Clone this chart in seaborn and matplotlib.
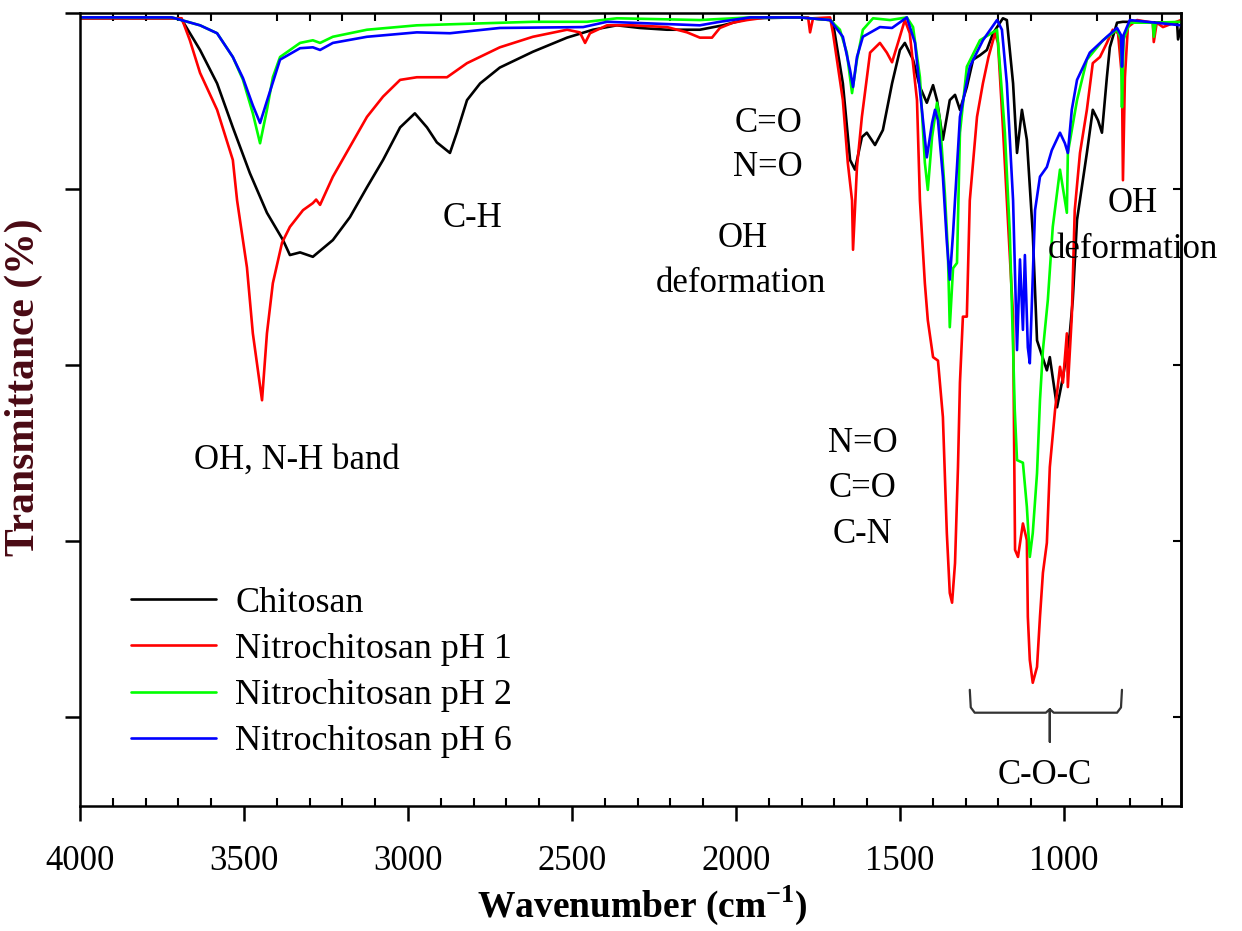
import matplotlib
matplotlib.use("Agg")
from matplotlib import pyplot as plt
from matplotlib.ticker import MultipleLocator
import pandas as pd
import seaborn as sns

samples = ["Chitosan", "Nitrochitosan pH 1", "Nitrochitosan pH 2", "Nitrochitosan pH 6"]
colors = ["#000000", "#ff0000", "#00ff00", "#0000ff"]

# (wavenumber cm-1, transmittance)
chitosan = [
    (4000, 99.4), (3700, 99.4), (3689, 99.2), (3634, 95.8), (3582, 92.0), (3534, 87.0),
    (3482, 81.8), (3430, 77.3), (3381, 74.2), (3360, 72.5), (3329, 72.8), (3290, 72.3),
    (3229, 74.2), (3177, 76.8), (3125, 80.2), (3076, 83.3), (3024, 87.0), (2979, 88.6),
    (2942, 87.0), (2912, 85.3), (2872, 84.1), (2851, 86.4), (2820, 90.1), (2780, 92.0),
    (2720, 93.8), (2619, 95.6), (2515, 97.2), (2436, 98.1), (2363, 98.6), (2293, 98.3),
    (2210, 98.1), (2110, 98.1), (2040, 98.6), (1957, 99.4), (1805, 99.5), (1713, 99.2),
    (1704, 98.9), (1674, 92.0), (1652, 83.3), (1637, 82.2), (1616, 85.9), (1601, 86.4),
    (1576, 85.0), (1552, 86.7), (1524, 92.0), (1500, 95.8), (1485, 96.6), (1460, 94.7),
    (1439, 91.6), (1418, 89.8), (1399, 91.8), (1387, 90.1), (1369, 85.6), (1348, 90.1),
    (1332, 90.7), (1317, 89.0), (1296, 91.6), (1277, 94.7), (1256, 95.2), (1235, 95.8),
    (1216, 97.7), (1186, 99.4), (1174, 99.2), (1155, 92.0), (1143, 84.1), (1128, 89.0),
    (1113, 85.6), (1095, 75.0), (1082, 62.8), (1052, 59.4), (1043, 60.9), (1021, 55.2),
    (1003, 58.6), (982, 63.6), (973, 67.4), (960, 76.5), (930, 84.1), (912, 89.0),
    (896, 87.8), (884, 86.4), (869, 92.7), (860, 96.1), (838, 98.9), (820, 99.0),
    (655, 98.9), (652, 97.0), (643, 98.4),
]

nitro_ph1 = [
    (4000, 99.4), (3690, 99.4), (3665, 96.9), (3634, 93.2), (3582, 89.0), (3534, 83.3),
    (3521, 78.7), (3491, 71.1), (3473, 63.6), (3445, 56.0), (3430, 63.6), (3412, 69.3),
    (3384, 73.9), (3360, 75.7), (3320, 77.6), (3290, 78.4), (3280, 78.8), (3268, 78.2),
    (3229, 81.4), (3177, 84.8), (3125, 88.2), (3076, 90.5), (3024, 92.4), (2973, 92.7),
    (2881, 92.7), (2820, 94.3), (2720, 96.1), (2619, 97.3), (2515, 98.1), (2476, 97.8),
    (2460, 96.6), (2445, 97.7), (2393, 98.6), (2314, 98.6), (2210, 98.4), (2149, 97.8),
    (2110, 97.2), (2073, 97.2), (2049, 98.3), (2009, 98.9), (1966, 99.2), (1906, 99.5),
    (1780, 99.5), (1774, 97.8), (1765, 99.4), (1713, 99.5), (1704, 97.7), (1674, 90.1),
    (1659, 83.0), (1646, 78.7), (1643, 73.1), (1631, 82.5), (1616, 88.2), (1591, 95.5),
    (1561, 96.6), (1540, 95.5), (1524, 94.4), (1506, 96.6), (1485, 99.2), (1470, 97.7),
    (1448, 90.1), (1439, 78.7), (1424, 69.3), (1415, 65.1), (1399, 60.9), (1384, 60.5),
    (1369, 54.1), (1357, 40.9), (1348, 34.1), (1341, 33.0), (1332, 37.5), (1323, 48.4),
    (1317, 58.0), (1308, 65.5), (1296, 65.5), (1287, 78.7), (1265, 88.2), (1247, 92.0),
    (1230, 95.0), (1210, 97.7), (1201, 96.6), (1186, 87.0), (1155, 65.5), (1152, 52.0),
    (1149, 39.0), (1140, 38.2), (1125, 42.0), (1113, 40.1), (1110, 31.4), (1104, 26.5),
    (1095, 23.9), (1082, 25.7), (1073, 31.4), (1064, 36.4), (1052, 39.8), (1043, 48.4),
    (1027, 54.9), (1012, 59.8), (1003, 58.0), (991, 63.6), (988, 57.5), (976, 65.5),
    (967, 77.6), (951, 84.1), (930, 89.0), (912, 94.3), (890, 95.0), (869, 96.6),
    (851, 98.1), (835, 97.7), (823, 92.7), (820, 81.0), (814, 92.7), (805, 98.4),
    (777, 99.2), (729, 98.9), (726, 96.7), (717, 98.9), (698, 98.4), (643, 99.2),
]

nitro_ph2 = [
    (4000, 99.5), (3720, 99.5), (3634, 98.6), (3582, 97.7), (3534, 95.0), (3503, 92.4),
    (3473, 88.6), (3451, 85.2), (3430, 89.0), (3412, 92.7), (3390, 95.0), (3329, 96.6),
    (3290, 96.9), (3268, 96.6), (3229, 97.3), (3125, 98.1), (2973, 98.6), (2619, 99.0),
    (2454, 99.0), (2363, 99.4), (2110, 99.2), (1957, 99.5), (1805, 99.5), (1713, 99.2),
    (1683, 98.1), (1662, 95.5), (1646, 90.9), (1631, 94.7), (1613, 98.1), (1582, 99.4),
    (1530, 99.2), (1479, 99.5), (1460, 98.4), (1439, 92.7), (1424, 83.0), (1415, 79.9),
    (1402, 85.9), (1387, 89.8), (1378, 87.8), (1363, 79.5), (1354, 73.1), (1348, 64.3),
    (1338, 71.0), (1326, 71.6), (1317, 86.4), (1296, 93.9), (1256, 96.9), (1204, 98.1),
    (1195, 93.9), (1180, 86.4), (1165, 75.0), (1155, 62.0), (1150, 55.0), (1143, 49.2),
    (1125, 48.9), (1113, 43.9), (1104, 38.2), (1095, 40.9), (1082, 47.7), (1073, 56.0),
    (1064, 61.7), (1049, 67.4), (1034, 75.7), (1012, 82.2), (991, 77.3), (988, 84.1),
    (960, 90.1), (930, 94.7), (881, 96.9), (838, 98.1), (826, 97.0), (823, 89.3),
    (818, 97.0), (799, 98.9), (729, 98.9), (726, 97.3), (720, 98.9), (643, 99.0),
]

nitro_ph6 = [
    (4000, 99.5), (3720, 99.5), (3634, 98.6), (3582, 97.7), (3534, 95.0), (3503, 92.6),
    (3473, 89.5), (3451, 87.5), (3430, 90.0), (3390, 94.7), (3329, 96.0), (3290, 96.1),
    (3268, 95.8), (3229, 96.6), (3125, 97.3), (2973, 97.8), (2872, 97.7), (2720, 98.3),
    (2466, 98.4), (2393, 99.0), (2110, 98.6), (2049, 99.0), (1957, 99.5), (1805, 99.5),
    (1713, 99.2), (1674, 97.3), (1652, 93.5), (1643, 91.6), (1631, 95.0), (1613, 97.3),
    (1561, 98.4), (1524, 98.3), (1479, 99.5), (1454, 96.6), (1433, 89.0), (1418, 83.6),
    (1402, 87.5), (1393, 89.0), (1384, 87.8), (1369, 81.4), (1357, 74.0), (1348, 69.7),
    (1338, 75.0), (1317, 88.2), (1287, 93.9), (1247, 96.9), (1204, 99.2), (1189, 98.1),
    (1174, 92.0), (1155, 78.7), (1143, 61.7), (1134, 72.0), (1125, 64.0), (1119, 72.5),
    (1110, 62.0), (1104, 60.2), (1095, 70.0), (1088, 77.6), (1073, 81.4), (1052, 82.5),
    (1037, 84.4), (1012, 86.4), (997, 85.2), (988, 84.1), (976, 89.0), (960, 92.4),
    (921, 95.5), (869, 97.3), (838, 98.3), (826, 97.5), (823, 93.9), (818, 97.5),
    (799, 99.2), (643, 98.6),
]

frames = []
for name, pts in zip(samples, [chitosan, nitro_ph1, nitro_ph2, nitro_ph6]):
    d = pd.DataFrame(pts, columns=["wavenumber", "transmittance"])
    d["sample"] = name
    frames.append(d)
df = pd.concat(frames, ignore_index=True)

sns.set_style("ticks")
plt.rcParams["font.family"] = ["Liberation Serif", "DejaVu Serif"]
plt.rcParams["mathtext.fontset"] = "custom"
plt.rcParams["mathtext.rm"] = "Liberation Serif"
plt.rcParams["mathtext.bf"] = "Liberation Serif:bold"
plt.rcParams["axes.edgecolor"] = "black"
plt.rcParams["text.color"] = "black"
plt.rcParams["axes.labelcolor"] = "black"
plt.rcParams["xtick.color"] = "black"
plt.rcParams["ytick.color"] = "black"

fig = plt.figure(figsize=(12.42, 9.31), dpi=100)
ax = fig.add_axes([80 / 1242, 1 - 806 / 931, 1101 / 1242, 793 / 931])

sns.lineplot(data=df, x="wavenumber", y="transmittance", hue="sample",
             hue_order=samples, palette=colors, estimator=None, sort=False,
             linewidth=1.9, ax=ax)

ax.set_xlim(4000, 643)
ax.set_ylim(9.9, 100)
ax.set_xticks([4000, 3500, 3000, 2500, 2000, 1500, 1000])
ax.xaxis.set_minor_locator(MultipleLocator(100))
ax.set_yticks([20, 40, 60, 80, 100])
ax.set_yticklabels([])

for s in ax.spines.values():
    s.set_linewidth(1.8)
    s.set_color("black")

ax.tick_params(axis="x", which="major", direction="out", length=11, width=1.8,
               top=False, bottom=True, labelsize=25, pad=17, colors="black")
ax.tick_params(axis="x", which="minor", direction="in", length=6, width=1.5,
               top=True, bottom=True, colors="black")
ax.tick_params(axis="y", which="major", direction="out", length=11, width=1.8,
               left=True, right=False, labelleft=False, colors="black")
ax.tick_params(axis="y", which="minor", left=False, right=False)

sec = ax.secondary_yaxis("right")
sec.set_yticks([20, 40, 60, 80])
sec.tick_params(direction="in", length=6, width=1.5, labelright=False, colors="black")
sec.spines["right"].set_linewidth(1.8)
sec.spines["right"].set_color("black")

ax.set_xlabel(r"Wavenumber (cm$^{\mathbf{-1}}$)", fontsize=27, fontweight="bold")
ax.xaxis.set_label_coords(0.511, -0.098)
ax.set_ylabel("Transmittance (%)", fontsize=30, fontweight="bold", color="#4a0a14")
ax.yaxis.set_label_coords(-0.034, 0.528)

handles, labels = ax.get_legend_handles_labels()
ax.legend(handles, labels, loc="upper left", bbox_to_anchor=(0.046, 0.277),
          frameon=False, fontsize=26, handlelength=2.35, handletextpad=0.55,
          labelspacing=0.36, borderpad=0, borderaxespad=0)

# band assignments
notes = [
    ("OH, N-H band", 3338, 49.2),
    ("C-H", 2802, 76.7),
    ("C=O", 1902, 87.5),
    ("N=O", 1902, 82.4),
    ("OH", 1979, 74.4),
    ("deformation", 1985, 69.3),
    ("N=O", 1613, 51.1),
    ("C=O", 1613, 46.0),
    ("C-N", 1613, 40.7),
    ("OH", 790, 78.4),
    ("deformation", 790, 73.1),
    ("C-O-C", 1058, 13.4),
]
for txt, x, y in notes:
    ax.text(x, y, txt, fontsize=25, ha="center", va="center", clip_on=False)

# brace under the C-O-C region
bl, br, bc = 1287, 823, 1043
b_top, b_mid, b_stem = 23.1, 20.5, 17.2
brace_x = [bl, bl - 3, bl - 15, bc + 12, bc, bc, bc, bc - 12, br + 15, br + 3, br]
brace_y = [b_top, b_mid + 0.6, b_mid, b_mid, b_mid + 0.4, b_stem, b_mid + 0.4, b_mid,
           b_mid, b_mid + 0.6, b_top]
ax.plot(brace_x, brace_y, color="#333333", lw=1.6, solid_joinstyle="round")

fig.savefig("out.png", dpi=100)
